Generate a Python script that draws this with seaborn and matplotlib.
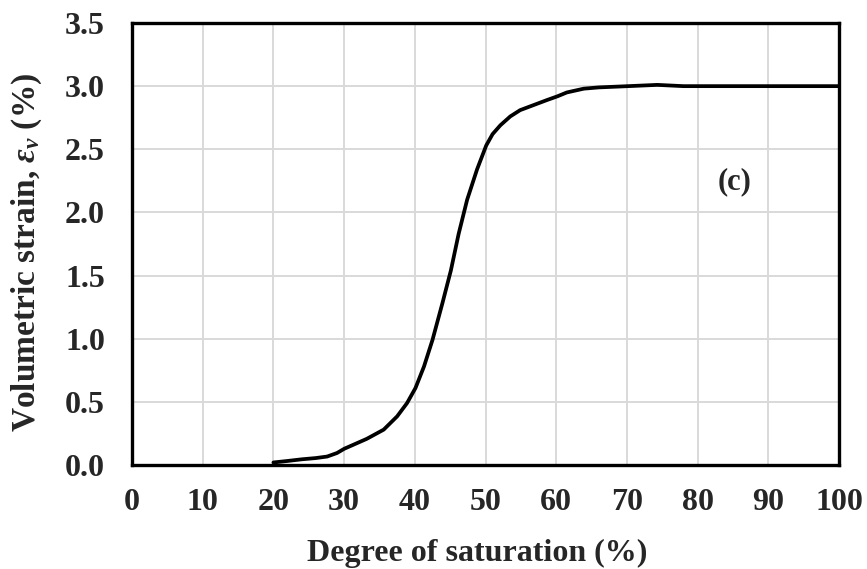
import matplotlib
matplotlib.use("Agg")
import matplotlib.pyplot as plt
import seaborn as sns
import pandas as pd

saturation = [20, 22, 24, 26, 27.6, 29, 30, 31.5, 33.2, 35.6, 37.5, 38.9, 40.1, 41.3, 42.5,
              43.9, 45.1, 46.2, 47.4, 48.8, 50.1, 51, 52.1, 53.5, 54.9, 56.8, 58.7, 60.2,
              61.5, 63.9, 66, 70.2, 74.3, 78, 85, 100]
strain = [0.02, 0.032, 0.045, 0.055, 0.067, 0.095, 0.128, 0.165, 0.207, 0.28, 0.385, 0.49,
          0.61, 0.78, 0.99, 1.28, 1.54, 1.83, 2.10, 2.34, 2.53, 2.62, 2.69, 2.76, 2.81,
          2.85, 2.89, 2.92, 2.95, 2.98, 2.99, 3.00, 3.01, 3.00, 3.00, 3.00]
x_ticks = [0, 10, 20, 30, 40, 50, 60, 70, 80, 90, 100]
y_ticks = [0.0, 0.5, 1.0, 1.5, 2.0, 2.5, 3.0, 3.5]

sns.set_style("white")
plt.rcParams['font.family'] = ['Liberation Serif', 'DejaVu Serif']
plt.rcParams['font.weight'] = 'bold'
plt.rcParams['mathtext.fontset'] = 'custom'
plt.rcParams['mathtext.rm'] = 'Liberation Serif:bold'
plt.rcParams['mathtext.it'] = 'Liberation Serif:italic:bold'
plt.rcParams['mathtext.bf'] = 'Liberation Serif:bold'

df = pd.DataFrame({"Sr": saturation, "ev": strain})

fig = plt.figure(figsize=(8.67, 5.69), dpi=100)
ax = fig.add_axes([132/867, 1-465/569, (839-132)/867, (465-23)/569])

sns.lineplot(data=df, x="Sr", y="ev", ax=ax, color="black", linewidth=2.7, sort=False)

ax.set_xlim(0, 100)
ax.set_ylim(0, 3.5)
ax.set_xticks(x_ticks)
ax.set_yticks(y_ticks)
ax.set_xticklabels([str(t) for t in x_ticks])
ax.set_yticklabels([f"{t:.1f}" for t in y_ticks])
ax.grid(True, color="#d9d9d9", linewidth=1.4)
ax.set_axisbelow(True)
for s in ax.spines.values():
    s.set_color("black")
    s.set_linewidth(2.4)
ax.tick_params(axis="both", direction="out", length=6.5, width=2.0, color="black",
               labelsize=23)
ax.tick_params(axis="y", pad=13)
ax.tick_params(axis="x", pad=10)
for lab in ax.get_xticklabels() + ax.get_yticklabels():
    lab.set_fontweight("bold")

ax.set_xlabel("Degree of saturation (%)", fontsize=23, fontweight="bold")
ax.set_ylabel(r"Volumetric strain, $\varepsilon_v$ (%)", fontsize=24, fontweight="bold")
ax.xaxis.set_label_coords(0.488, -0.168)
ax.yaxis.set_label_coords(-0.124, 0.482)
ax.text(85.2, 2.24, "(c)", fontsize=22, fontweight="bold", ha="center", va="center")

fig.savefig("out.png", dpi=100)
